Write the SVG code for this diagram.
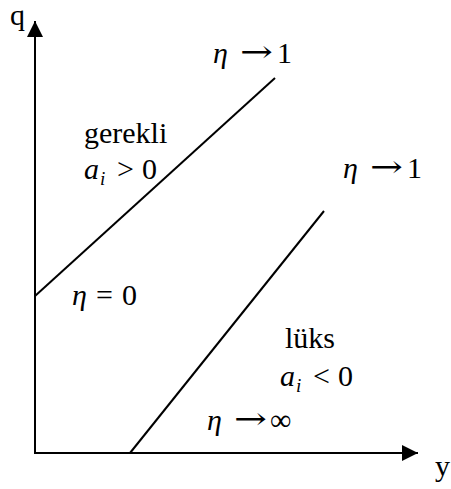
<svg xmlns="http://www.w3.org/2000/svg" width="451" height="489" viewBox="0 0 451 489">
<style>
.t{font-family:"Liberation Serif","Times New Roman",serif;font-size:30px;fill:#000}
.i{font-style:italic}
.s{font-family:"Liberation Serif","Times New Roman",serif;font-size:19px;font-style:italic;fill:#000}
.ar{font-family:"DejaVu Serif","Liberation Serif",serif;font-size:30px;fill:#000}
.ln{stroke:#000;stroke-width:2;fill:none}
</style>
<defs>
<marker id="ah" viewBox="0 0 16 16" refX="16" refY="8" markerWidth="16" markerHeight="16" markerUnits="userSpaceOnUse" orient="auto">
<path d="M0,0 L16,8 L0,16 Z" fill="#000"/>
</marker>
</defs>
<rect width="451" height="489" fill="#fff"/>
<g id="connectors">
<line class="ln" x1="35" y1="454" x2="35" y2="21" marker-end="url(#ah)"/>
<line class="ln" x1="34" y1="453" x2="418" y2="453" marker-end="url(#ah)"/>
<line class="ln" x1="35" y1="296" x2="275" y2="78"/>
<line class="ln" x1="130" y1="453" x2="324" y2="211"/>
</g>
<g id="axis-q"><text class="t" x="10" y="25">q</text></g>
<g id="axis-y"><text class="t" x="435" y="476">y</text></g>
<g id="label-top"><text class="t i" x="213" y="63">η</text><text class="ar" x="240" y="62" textLength="33" lengthAdjust="spacingAndGlyphs">→</text><text class="t" x="277" y="63">1</text></g>
<g id="gerekli"><text class="t" x="84" y="143">gerekli</text><text class="t i" x="84" y="179">a</text><text class="s" x="100" y="185">i</text><text class="t" x="117" y="179">&gt;</text><text class="t" x="142" y="179">0</text></g>
<g id="label-right"><text class="t i" x="343" y="178">η</text><text class="ar" x="370" y="177" textLength="33" lengthAdjust="spacingAndGlyphs">→</text><text class="t" x="407" y="178">1</text></g>
<g id="eta-zero"><text class="t i" x="72" y="305">η</text><text class="t" x="96" y="305">=</text><text class="t" x="122" y="305">0</text></g>
<g id="luks"><text class="t" x="285" y="348">lüks</text><text class="t i" x="280" y="386">a</text><text class="s" x="296" y="392">i</text><text class="t" x="313" y="386">&lt;</text><text class="t" x="338" y="386">0</text></g>
<g id="eta-inf"><text class="t i" x="207" y="430">η</text><text class="ar" x="234" y="429" textLength="33" lengthAdjust="spacingAndGlyphs">→</text><text class="t" x="270" y="430">∞</text></g>
</svg>
